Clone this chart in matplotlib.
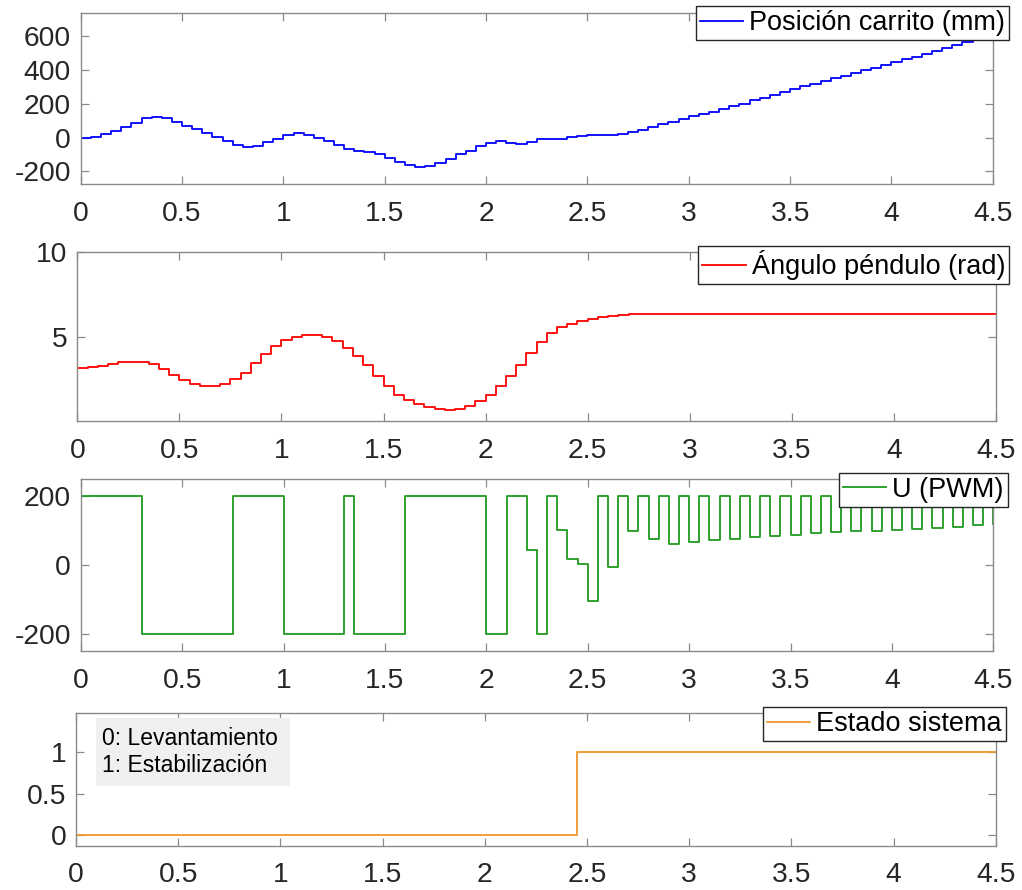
import numpy as np
import matplotlib
matplotlib.use('Agg')
import matplotlib.pyplot as plt
from matplotlib.patches import Rectangle
from matplotlib.ticker import FuncFormatter

plt.rcParams['font.family'] = ['Liberation Sans', 'DejaVu Sans']
plt.rcParams['axes.unicode_minus'] = False

# ---------------- data ----------------
t = np.round(np.arange(0, 4.5001, 0.05), 2)  # sample instants (Ts = 0.05 s)

posicion = [0, 2, 20, 41, 65, 89, 114, 122, 114, 93,
            71, 49, 26, 4, -22, -45, -55, -47, -28, -6,
            16, 26, 18, 0, -22, -45, -69, -81, -85, -99,
            -118, -142, -164, -175, -166, -148, -124, -100, -77, -51,
            -30, -23, -30, -36, -24, -10, -10, -6, 6, 12,
            14, 16, 16, 22, 33, 47, 63, 79, 95, 112,
            126, 140, 154, 169, 185, 201, 221, 236, 252, 270,
            286, 303, 319, 335, 351, 366, 384, 400, 414, 429,
            447, 463, 479, 494, 512, 532, 550, 567, 585, 602,
            620]

angulo = [3.14, 3.18, 3.27, 3.39, 3.47, 3.51, 3.51, 3.37, 3.08, 2.72,
          2.42, 2.18, 2.08, 2.08, 2.22, 2.46, 2.86, 3.41, 3.99, 4.44,
          4.82, 5.00, 5.10, 5.10, 4.98, 4.74, 4.33, 3.85, 3.31, 2.66,
          2.06, 1.57, 1.23, 0.99, 0.83, 0.69, 0.67, 0.73, 0.91, 1.17,
          1.57, 2.10, 2.66, 3.33, 4.06, 4.70, 5.20, 5.56, 5.77, 5.95,
          6.07, 6.17, 6.25, 6.31, 6.35, 6.37, 6.36, 6.36, 6.36, 6.36,
          6.36, 6.36, 6.36, 6.36, 6.36, 6.36, 6.36, 6.36, 6.36, 6.36,
          6.36, 6.35, 6.35, 6.35, 6.35, 6.35, 6.35, 6.35, 6.35, 6.35,
          6.35, 6.35, 6.35, 6.35, 6.35, 6.34, 6.34, 6.34, 6.34, 6.34,
          6.34]

pwm = [200, 200, 200, 200, 200, 200, -200, -200, -200, -200,
       -200, -200, -200, -200, -200, 200, 200, 200, 200, 200,
       -200, -200, -200, -200, -200, -200, 200, -200, -200, -200,
       -200, -200, 200, 200, 200, 200, 200, 200, 200, 200,
       -200, -200, 200, 200, 43, -200, 200, 102, 16, 3,
       -106, 200, -5, 200, 100, 200, 75, 200, 60, 200,
       68, 200, 74, 200, 77, 200, 80, 200, 84, 200,
       88, 200, 92, 200, 95, 200, 98, 200, 100, 200,
       103, 200, 106, 200, 109, 200, 111, 200, 115, 200,
       118]

estado = [0] * 49 + [1] * 42

xticks = [0, 0.5, 1, 1.5, 2, 2.5, 3, 3.5, 4, 4.5]
labels = ['Posición carrito (mm)', 'Ángulo péndulo (rad)', 'U (PWM)', 'Estado sistema']
colors = ['#0000FF', '#FF0000', '#1F9A1F', '#F0962A']
yticks = [[-200, 0, 200, 400, 600], [5, 10], [-200, 0, 200], [0, 0.5, 1]]
ylims = [(-275, 740), (0, 10), (-250, 250), (-0.13, 1.48)]
series = [posicion, angulo, pwm, estado]

# ---------------- layout (pixels) ----------------
W, H = 1022, 890
fig = plt.figure(figsize=(W / 100, H / 100), dpi=100)

def rect(l, r, top, b):
    return [l / W, 1 - b / H, (r - l) / W, (b - top) / H]

axes_px = [(80.7, 992.8, 12.7, 184.0),
           (77.3, 996.0, 252.3, 421.0),
           (80.7, 993.3, 479.0, 651.0),
           (76.0, 995.8, 712.7, 845.7)]
legend_anchor_px = [(1009.3, 6.0), (1009.3, 246.0), (1007.7, 472.7), (1005.7, 707.3)]

TICK_FS = 20.3
LEG_FS = 19.5
SPINE = '#8a8a8a'
TXT = '#262626'

fmt = FuncFormatter(lambda v, p: '%g' % v)

for i in range(4):
    ax = fig.add_axes(rect(*axes_px[i]))
    ax.plot(t, series[i], drawstyle='steps-post', color=colors[i], lw=1.3, label=labels[i])
    ax.set_xlim(0, 4.5)
    ax.set_ylim(*ylims[i])
    ax.set_xticks(xticks)
    ax.set_yticks(yticks[i])
    ax.xaxis.set_major_formatter(fmt)
    ax.yaxis.set_major_formatter(fmt)
    for s in ax.spines.values():
        s.set_color(SPINE)
        s.set_linewidth(1.0)
    ax.tick_params(axis='both', direction='in', length=6, width=0.9, color=SPINE,
                   labelcolor=TXT, labelsize=TICK_FS, top=True, right=True)
    ax.tick_params(axis='x', pad=12)
    ax.tick_params(axis='y', pad=7)
    lx, ly = legend_anchor_px[i]
    leg = ax.legend(loc='upper right', bbox_to_anchor=(lx / W, 1 - ly / H),
                    bbox_transform=fig.transFigure, borderaxespad=0, fancybox=False,
                    edgecolor=TXT, framealpha=1, borderpad=0.15, handlelength=1.6,
                    handletextpad=0.22, fontsize=LEG_FS)
    leg.get_frame().set_linewidth(1.0)
    for txt in leg.get_texts():
        txt.set_color('black')
    if i == 3:
        ax.add_patch(Rectangle((96 / W, 1 - 785.7 / H), 194 / W, 67.4 / H,
                               transform=fig.transFigure, facecolor='#f0f0f0',
                               edgecolor='none', zorder=3))
        ax.text(101.7 / W, 1 - 745 / H, '0: Levantamiento', transform=fig.transFigure,
                fontsize=16.5, va='baseline', ha='left', color='black', zorder=4)
        ax.text(101.7 / W, 1 - 771.7 / H, '1: Estabilización', transform=fig.transFigure,
                fontsize=16.5, va='baseline', ha='left', color='black', zorder=4)

fig.savefig('out.png', dpi=100)
